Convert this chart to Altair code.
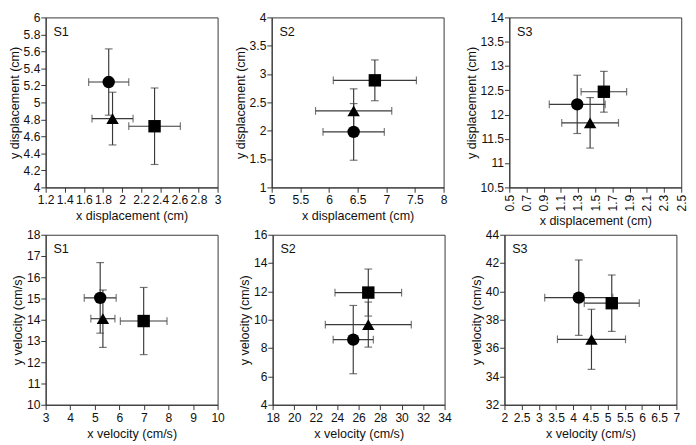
import altair as alt
import pandas as pd

# marker order: circle, triangle, square
shapes = ["circle", "triangle-up", "square"]

# ---- displacement panels (top row) ----
s1d_x = [1.86, 1.90, 2.34]
s1d_y = [5.24, 4.81, 4.72]
s1d_xe = [0.21, 0.215, 0.27]
s1d_ye = [0.39, 0.31, 0.45]

s2d_x = [6.43, 6.43, 6.80]
s2d_y = [1.98, 2.35, 2.89]
s2d_xe = [0.535, 0.665, 0.725]
s2d_ye = [0.50, 0.39, 0.36]

s3d_x = [1.29, 1.44, 1.60]
s3d_y = [12.21, 11.83, 12.47]
s3d_xe = [0.325, 0.33, 0.265]
s3d_ye = [0.60, 0.52, 0.42]

# ---- velocity panels (bottom row) ----
s1v_x = [5.22, 5.33, 6.99]
s1v_y = [15.03, 14.05, 13.94]
s1v_xe = [0.65, 0.49, 0.95]
s1v_ye = [1.66, 1.35, 1.58]

s2v_x = [25.5, 26.9, 26.9]
s2v_y = [8.60, 9.66, 11.92]
s2v_xe = [1.87, 4.0, 3.1]
s2v_ye = [2.41, 1.59, 1.66]

s3v_x = [4.16, 4.53, 5.12]
s3v_y = [39.56, 36.62, 39.17]
s3v_xe = [0.99, 0.99, 0.80]
s3v_ye = [2.66, 2.12, 1.99]

# ---- axis ticks ----
t1x = [1.2, 1.4, 1.6, 1.8, 2, 2.2, 2.4, 2.6, 2.8, 3]
t1y = [4, 4.2, 4.4, 4.6, 4.8, 5, 5.2, 5.4, 5.6, 5.8, 6]
t2x = [5, 5.5, 6, 6.5, 7, 7.5, 8]
t2y = [1, 1.5, 2, 2.5, 3, 3.5, 4]
t3x = [0.5, 0.7, 0.9, 1.1, 1.3, 1.5, 1.7, 1.9, 2.1, 2.3, 2.5]
t3y = [10.5, 11, 11.5, 12, 12.5, 13, 13.5, 14]
t4x = [3, 4, 5, 6, 7, 8, 9, 10]
t4y = [10, 11, 12, 13, 14, 15, 16, 17, 18]
t5x = [18, 20, 22, 24, 26, 28, 30, 32, 34]
t5y = [4, 6, 8, 10, 12, 14, 16]
t6x = [2, 2.5, 3, 3.5, 4, 4.5, 5, 5.5, 6, 6.5, 7]
t6y = [32, 34, 36, 38, 40, 42, 44]

panel_labels = ["S1", "S2", "S3", "S1", "S2", "S3"]
x_titles = ["x displacement (cm)"] * 3 + ["x velocity (cm/s)"] * 3
y_titles = ["y displacement (cm)"] * 3 + ["y velocity (cm/s)"] * 3

FONT = "Liberation Sans"
BAR = "#3a3a3a"
W, H = 178, 176


def panel(i, xs, ys, xe, ye, tx, ty, rot=False):
    df = pd.DataFrame({
        "x": xs, "y": ys,
        "xlo": [a - b for a, b in zip(xs, xe)],
        "xhi": [a + b for a, b in zip(xs, xe)],
        "ylo": [a - b for a, b in zip(ys, ye)],
        "yhi": [a + b for a, b in zip(ys, ye)],
        "shape": shapes,
    })
    xsc = alt.Scale(domain=[tx[0], tx[-1]], nice=False, zero=False)
    ysc = alt.Scale(domain=[ty[0], ty[-1]], nice=False, zero=False)
    xax = alt.Axis(values=tx, labelExpr="'' + datum.value", title=x_titles[i],
                   labelAngle=270 if rot else 0,
                   labelAlign="right" if rot else "center",
                   labelBaseline="middle" if rot else "top",
                   labelFlush=False, labelOverlap=False)
    yax = alt.Axis(values=ty, labelExpr="'' + datum.value", title=y_titles[i],
                   labelFlush=False, labelOverlap=False)

    def X(f):
        return alt.X(f + ":Q", scale=xsc, axis=xax)

    def Y(f):
        return alt.Y(f + ":Q", scale=ysc, axis=yax)

    base = alt.Chart(df)
    hbar = base.mark_rule(color=BAR, strokeWidth=1.2).encode(x=X("xlo"), x2="xhi", y=Y("y"))
    vbar = base.mark_rule(color=BAR, strokeWidth=1.2).encode(x=X("x"), y=Y("ylo"), y2="yhi")
    cap_xl = base.mark_tick(color=BAR, orient="vertical", size=8, thickness=1.2).encode(x=X("xlo"), y=Y("y"))
    cap_xh = base.mark_tick(color=BAR, orient="vertical", size=8, thickness=1.2).encode(x=X("xhi"), y=Y("y"))
    cap_yl = base.mark_tick(color=BAR, orient="horizontal", size=8, thickness=1.2).encode(x=X("x"), y=Y("ylo"))
    cap_yh = base.mark_tick(color=BAR, orient="horizontal", size=8, thickness=1.2).encode(x=X("x"), y=Y("yhi"))
    pts = base.mark_point(filled=True, size=165, color="black", opacity=1).encode(
        x=X("x"), y=Y("y"),
        shape=alt.Shape("shape:N", scale=alt.Scale(domain=shapes, range=shapes), legend=None),
    )
    lab = alt.Chart(pd.DataFrame({"t": [panel_labels[i]]})).mark_text(
        align="left", baseline="middle", font=FONT, fontSize=13, color="#111"
    ).encode(x=alt.value(8), y=alt.value(15), text="t:N")
    return alt.layer(hbar, vbar, cap_xl, cap_xh, cap_yl, cap_yh, pts, lab).properties(width=W, height=H)


p1 = panel(0, s1d_x, s1d_y, s1d_xe, s1d_ye, t1x, t1y)
p2 = panel(1, s2d_x, s2d_y, s2d_xe, s2d_ye, t2x, t2y)
p3 = panel(2, s3d_x, s3d_y, s3d_xe, s3d_ye, t3x, t3y, rot=True)
p4 = panel(3, s1v_x, s1v_y, s1v_xe, s1v_ye, t4x, t4y)
p5 = panel(4, s2v_x, s2v_y, s2v_xe, s2v_ye, t5x, t5y)
p6 = panel(5, s3v_x, s3v_y, s3v_xe, s3v_ye, t6x, t6y)

top = alt.hconcat(alt.hconcat(p1, p2, spacing=13), p3, spacing=18)
bot = alt.hconcat(alt.hconcat(p4, p5, spacing=13), p6, spacing=18)

chart = alt.vconcat(top, bot, spacing=0).properties(
    padding={"left": 0, "top": -5, "right": 0, "bottom": 0}
).configure_view(
    stroke="#333", strokeWidth=1
).configure_axis(
    grid=False, domainColor="#333", tickColor="#333", tickSize=5,
    labelFont=FONT, titleFont=FONT, labelFontSize=12.5, titleFontSize=13,
    labelColor="#111", titleColor="#111", titleFontWeight="normal",
    labelPadding=2, titlePadding=4,
).configure_axisY(titlePadding=2, labelPadding=1)

chart.save("out.html", embed_options={"renderer": "svg", "actions": False})
